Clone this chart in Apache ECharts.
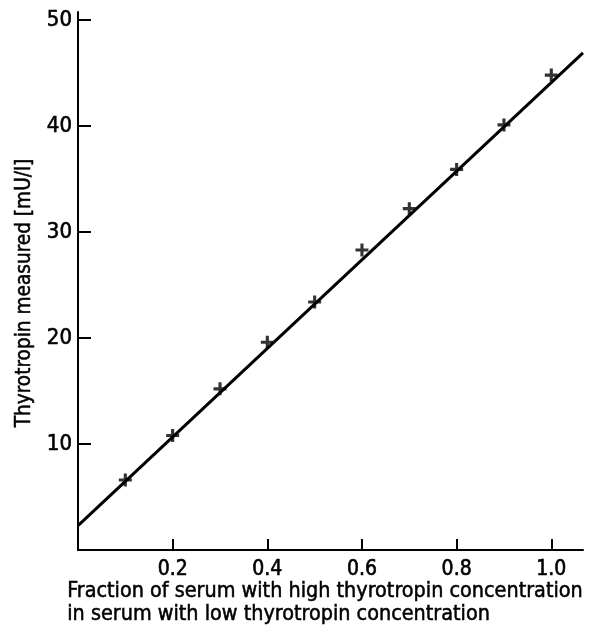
<!DOCTYPE html>
<html>
<head>
<meta charset="utf-8">
<script src="https://cdn.jsdelivr.net/npm/echarts@6/dist/echarts.min.js"></script>
<style>
  html, body { margin: 0; padding: 0; background: #fff; }
  #chart { width: 593px; height: 629px; }
</style>
</head>
<body>
<div id="chart"></div>
<script>
// Measured thyrotropin in mixed sera (fraction of high-concentration serum)
const fractions = [0.1, 0.2, 0.3, 0.4, 0.5, 0.6, 0.7, 0.8, 0.9, 1.0];
const measured  = [6.6, 10.8, 15.2, 19.6, 23.4, 28.3, 32.2, 35.9, 40.1, 44.8];

// Regression line end points
const fitX = [0, 1.067];
const fitY = [2.3, 46.9];

// Tick labels
const xTicks = [0.2, 0.4, 0.6, 0.8, 1.0];
const yTicks = [10, 20, 30, 40, 50];

const FONT = "'Liberation Sans Narrow', 'DejaVu Sans Condensed', sans-serif";
const INK = '#000';

const chart = echarts.init(document.getElementById('chart'));

// plus-shaped marker
const crossPath = 'path://M3.8,0H6.2V3.8H10V6.2H6.2V10H3.8V6.2H0V3.8H3.8Z';

chart.setOption({
  animation: false,
  backgroundColor: '#fff',
  grid: { left: 78, right: 10, top: 12, bottom: 79, containLabel: false },
  xAxis: {
    type: 'value',
    min: 0,
    max: 1.067,
    splitLine: { show: false },
    axisLine: { show: true, onZero: false, lineStyle: { color: INK, width: 2 } },
    axisTick: { show: true, inside: true, length: 11, customValues: xTicks, lineStyle: { color: INK, width: 2 } },
    axisLabel: {
      customValues: xTicks,
      color: INK, fontFamily: FONT, fontSize: 21, margin: 9,
      textBorderColor: INK, textBorderWidth: 0.6,
      formatter: v => v.toFixed(1)
    }
  },
  yAxis: {
    type: 'value',
    min: 0,
    max: 50.75,
    splitLine: { show: false },
    axisLine: { show: true, onZero: false, lineStyle: { color: INK, width: 2 } },
    axisTick: { show: true, inside: true, length: 13, customValues: yTicks, lineStyle: { color: INK, width: 2 } },
    axisLabel: {
      customValues: yTicks,
      color: INK, fontFamily: FONT, fontSize: 22, margin: 6,
      textBorderColor: INK, textBorderWidth: 0.6
    }
  },
  graphic: [
    {
      type: 'text', left: 67, top: 580,
      style: {
        text: 'Fraction of serum with high thyrotropin concentration\nin serum with low thyrotropin concentration',
        fill: INK, font: '21.4px ' + FONT, lineHeight: 23,
        stroke: INK, lineWidth: 0.5
      }
    },
    {
      type: 'text', x: 25, y: 293, rotation: Math.PI / 2,
      style: {
        text: 'Thyrotropin measured [mU/l]',
        fill: INK, font: '20.6px ' + FONT, align: 'center', verticalAlign: 'middle',
        stroke: INK, lineWidth: 0.5
      }
    }
  ],
  series: [
    {
      type: 'line',
      data: fitX.map((x, i) => [x, fitY[i]]),
      showSymbol: false,
      lineStyle: { color: INK, width: 3 },
      silent: true
    },
    {
      type: 'scatter',
      data: fractions.map((x, i) => [x, measured[i]]),
      symbol: crossPath,
      symbolSize: 13,
      itemStyle: { color: INK }
    }
  ]
});
</script>
</body>
</html>
